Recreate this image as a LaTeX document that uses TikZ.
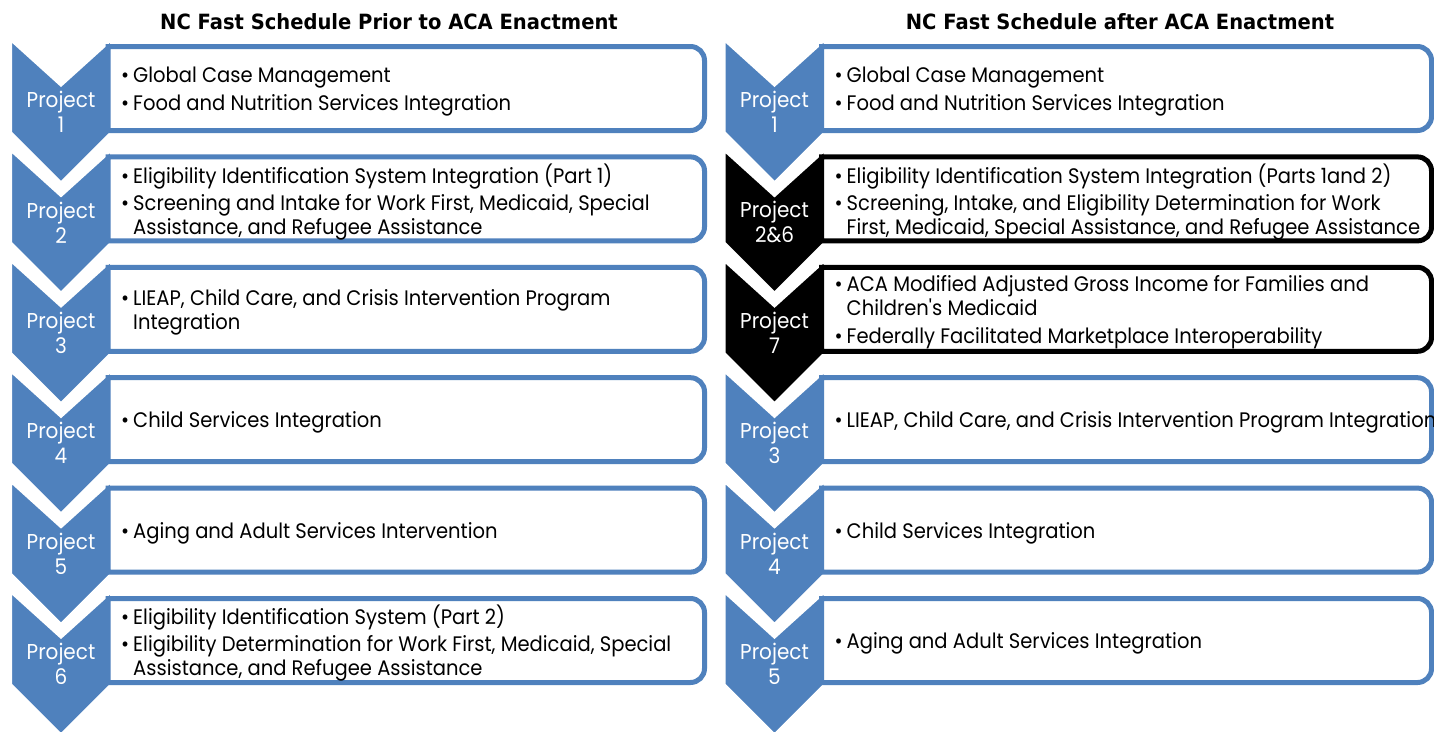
\documentclass[tikz,border=0pt]{standalone}
\usepackage{fontspec}
\setmainfont{Poppins}
\newfontfamily\bodyfont{Poppins}[FakeStretch=0.93,Ligatures=TeXOff]
\newfontfamily\headfont{DejaVu Sans}[FakeStretch=0.93]
\definecolor{chevblue}{HTML}{4F81BD}

\tikzset{
  chevron/.style={fill=#1, draw=white, line width=6pt, line join=miter},
  listbox/.style={draw=#1, line width=5pt, fill=white},
  chevlabel/.style={text=white, font=\bodyfont\fontsize{21.5}{25}\selectfont, align=center, inner sep=0pt},
  itemtext/.style={font=\bodyfont\fontsize{21}{24}\selectfont, align=left, inner sep=0pt, anchor=west},
  heading/.style={font=\headfont\bfseries\fontsize{21}{24}\selectfont, inner sep=0pt}
}

% bullet and hanging indent for the list items
\newcommand\bul{\makebox[12pt][l]{\textbullet}}
\newcommand\ind{\hspace*{12pt}}

% one row: chevron tag on the left, rounded list box on the right
% #1 panel offset, #2 row index, #3 colour, #4 right edge of the box,
% #5 node name prefix, #6 tag text, #7 list items
\newcommand\schedrow[7]{%
  \pgfmathsetmacro\rowtop{41+110.4*#2}
  \begin{scope}[shift={(#1,\rowtop)}]
    \draw[chevron=#3] (9,-5) -- (61,42) -- (113,-5) -- (113,92) -- (61,144) -- (9,92) -- cycle;
    \draw[listbox=#3] (108,5.5) -- ({#4-#1-14},5.5) arc[start angle=-90,end angle=0,radius=14]
      -- ({#4-#1},75.5) arc[start angle=0,end angle=90,radius=14] -- (108,89.5) -- cycle;
    \node[chevlabel] (#5-tag) at (61,71) {#6};
    \node[itemtext] (#5-items) at (121,50.5) {#7};
  \end{scope}}

\begin{document}
\begin{tikzpicture}[x=1pt,y=-1pt]
  \useasboundingbox (0,0) rectangle (1434,731);
  \fill[white] (0,0) rectangle (1434,731);

  \node[heading] (head-prior) at (389,22) {NC Fast Schedule Prior to ACA Enactment};
  \node[heading] (head-after) at (1120,22) {NC Fast Schedule after ACA Enactment};

  % schedule before the ACA
  \schedrow{0}{0}{chevblue}{704.5}{pa}{Project\\1}
    {\bul Global Case Management\\[4pt]\bul Food and Nutrition Services Integration}
  \schedrow{0}{1}{chevblue}{704.5}{pb}{Project\\2}
    {\bul Eligibility Identification System Integration (Part 1)\\[3pt]\bul Screening and Intake for Work First, Medicaid, Special\\\ind Assistance, and Refugee Assistance}
  \schedrow{0}{2}{chevblue}{704.5}{pc}{Project\\3}
    {\bul LIEAP, Child Care, and Crisis Intervention Program\\\ind Integration}
  \schedrow{0}{3}{chevblue}{704.5}{pd}{Project\\4}
    {\bul Child Services Integration}
  \schedrow{0}{4}{chevblue}{704.5}{pe}{Project\\5}
    {\bul Aging and Adult Services Intervention}
  \schedrow{0}{5}{chevblue}{704.5}{pf}{Project\\6}
    {\bul Eligibility Identification System (Part 2)\\[3pt]\bul Eligibility Determination for Work First, Medicaid, Special\\\ind Assistance, and Refugee Assistance}

  % schedule after the ACA
  \schedrow{713.5}{0}{chevblue}{1431.5}{aa}{Project\\1}
    {\bul Global Case Management\\[4pt]\bul Food and Nutrition Services Integration}
  \schedrow{713.5}{1}{black}{1431.5}{ab}{Project\\2\&6}
    {\bul Eligibility Identification System Integration (Parts 1and 2)\\[3pt]\bul Screening, Intake, and Eligibility Determination for Work\\\ind First, Medicaid, Special Assistance, and Refugee Assistance}
  \schedrow{713.5}{2}{black}{1431.5}{ac}{Project\\7}
    {\bul ACA Modified Adjusted Gross Income for Families and\\\ind Children's Medicaid\\[4pt]\bul Federally Facilitated Marketplace Interoperability}
  \schedrow{713.5}{3}{chevblue}{1431.5}{ad}{Project\\3}
    {\bul LIEAP, Child Care, and Crisis Intervention Program Integration}
  \schedrow{713.5}{4}{chevblue}{1431.5}{ae}{Project\\4}
    {\bul Child Services Integration}
  \schedrow{713.5}{5}{chevblue}{1431.5}{af}{Project\\5}
    {\bul Aging and Adult Services Integration}
\end{tikzpicture}
\end{document}
